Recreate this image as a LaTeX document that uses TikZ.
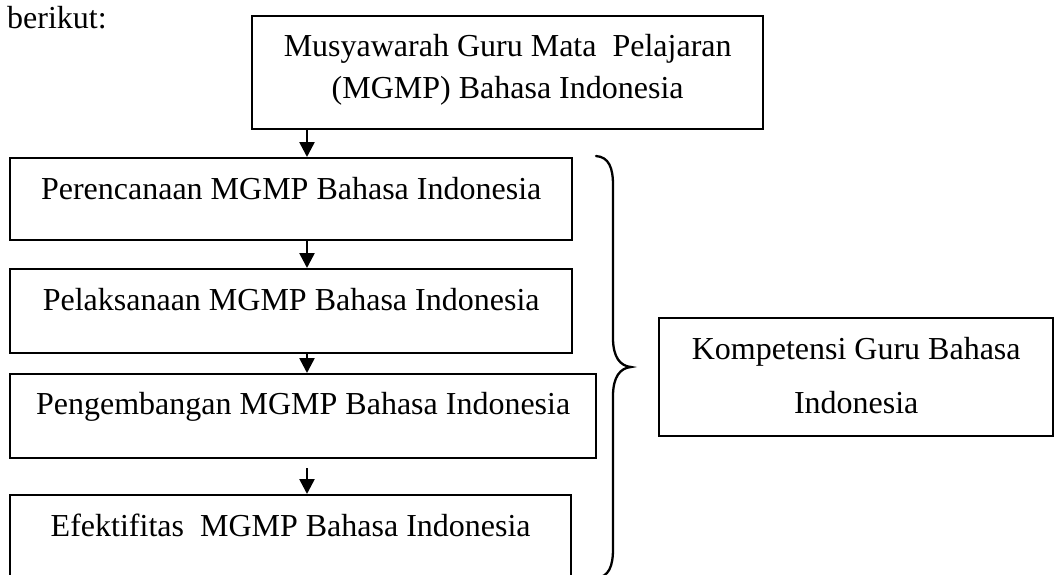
\documentclass[tikz,border=0pt]{standalone}
\usepackage{fontspec}
\setmainfont{Liberation Serif}
\usetikzlibrary{arrows.meta}
\newcommand\twoln[3]{\vtop{\baselineskip=#3\halign{\hfil##\hfil\cr #1\cr #2\cr}}}
\begin{document}
\begin{tikzpicture}[x=1pt,y=-1pt,
  txt/.style={font=\fontsize{32}{42}\selectfont},
  box/.style={txt, draw, line width=2.4pt, rectangle, inner xsep=0pt, inner ysep=0pt, anchor=north west},
  arr/.style={line width=2.6pt, -{Triangle[width=15pt,length=15pt]}},
  bracestyle/.style={line width=2.3pt, line cap=round}
]
\clip (0,0) rectangle (1054,574);
\fill[white] (0,0) rectangle (1054,574);

\node[txt, anchor=base west, inner sep=0pt] (intro) at (7,28) {berikut:};

\node[box, minimum width=511pt, text height=40pt, text depth=73pt] (mgmp) at (251,15)
  {\twoln{Musyawarah Guru Mata\ \ Pelajaran}{(MGMP) Bahasa Indonesia}{42pt}};

\node[box, minimum width=562pt, text height=41pt, text depth=41pt] (p1) at (9,157) {Perencanaan MGMP Bahasa Indonesia};
\node[box, minimum width=562pt, text height=41pt, text depth=43pt] (p2) at (9,268) {Pelaksanaan MGMP Bahasa Indonesia};
\node[box, minimum width=586pt, text height=40pt, text depth=44pt] (p3) at (9,373) {Pengembangan MGMP Bahasa Indonesia};
\node[box, minimum width=561pt, text height=41pt, text depth=43pt] (p4) at (9,494) {Efektifitas\ \ MGMP Bahasa Indonesia};

\node[box, minimum width=394pt, text height=41pt, text depth=77pt] (komp) at (658,317)
  {\twoln{Kompetensi Guru Bahasa}{Indonesia}{54pt}};

\coordinate (ax) at (307,0);
\draw[arr] (mgmp.south -| ax) -- (p1.north -| ax);
\draw[arr] (p1.south -| ax) -- (p2.north -| ax);
\draw[arr] (p2.south -| ax) -- (p3.north -| ax);
\draw[arr] ([yshift=-9pt]p3.south -| ax) -- (p4.north -| ax);

\draw[bracestyle] (596,156) .. controls (609,157) and (613,168) .. (613,185)
  -- (613,338) .. controls (613,357) and (620,366) .. (631,367)
  .. controls (620,368) and (613,377) .. (613,396)
  -- (613,549) .. controls (613,566) and (609,577) .. (596,578);
\end{tikzpicture}
\end{document}
